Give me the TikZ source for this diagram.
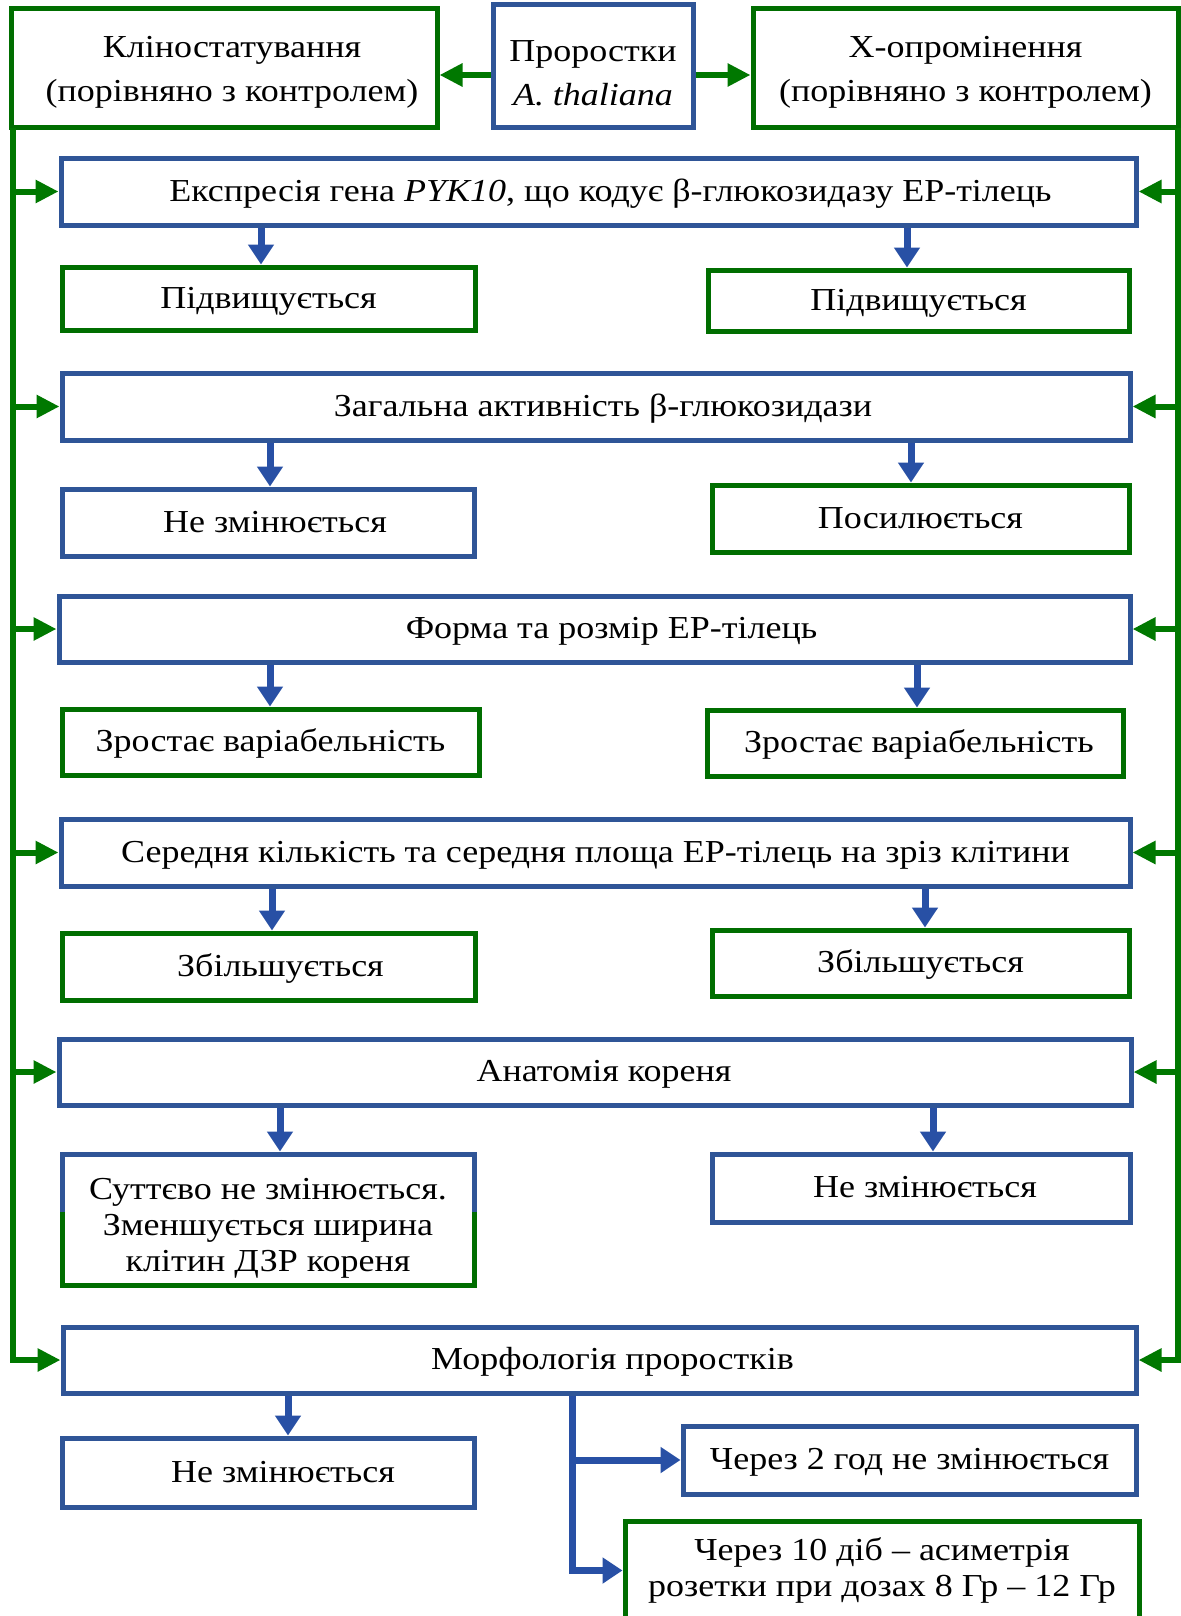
\documentclass[tikz,border=0pt]{standalone}
\usepackage{fontspec}
\setmainfont[FakeStretch=1.125]{Liberation Serif}
\usetikzlibrary{arrows.meta,calc}
\definecolor{gborder}{RGB}{0,110,0}
\definecolor{bborder}{RGB}{47,85,151}
\definecolor{barr}{RGB}{40,80,165}
\definecolor{garr}{RGB}{0,120,0}
\tikzset{
 box/.style={draw, line width=2.5pt, fill=white, inner sep=0pt, align=center, font=\fontsize{16}{18}\selectfont},
 gbox/.style={box, draw=gborder},
 bbox/.style={box, draw=bborder},
 one/.style={text height=11pt, text depth=1.5pt},
 topbox/.style={font=\fontsize{16}{22}\selectfont},
 gline/.style={draw=garr, line width=3pt},
 garrow/.style={gline, -{Triangle[length=11.5pt,width=11pt]}},
 bline/.style={draw=barr, line width=3.5pt},
 barrow/.style={bline, -{Triangle[length=10pt,width=12.5pt]}},
}
\newcommand\mybox[7]{\node[#6, minimum width={(#4-#2)*0.5pt}, minimum height={(#5-#3)*0.5pt}] (#1) at ({(#2+#4)/2},{(#3+#5)/2}) {#7};}
\newcommand\shr[1]{\hspace*{#1pt}}
\begin{document}
\begin{tikzpicture}[x=0.5pt,y=-0.5pt]
\useasboundingbox (0,0) rectangle (1181,1616);
\clip (0,0) rectangle (1181,1616);
\fill[white] (0,0) rectangle (1181,1616);
% top row
\mybox{kl}{11}{9}{437}{128}{gbox,topbox}{\rule{0pt}{14pt}\shr{8}Кліностатування\\\shr{8}(порівняно з контролем)}
\mybox{pr}{493}{5}{693}{128}{bbox,topbox}{\rule{0pt}{17pt}Проростки\\\textit{A. thaliana}}
\mybox{xo}{753}{9}{1178}{128}{gbox,topbox}{\rule{0pt}{14pt}X-опромінення\\(порівняно з контролем)}
% main boxes
\mybox{b1}{61}{158}{1136}{225}{bbox,one}{\shr{12}Експресія гена \textit{PYK10}, що кодує β-глюкозидазу ЕР-тілець}
\mybox{s1l}{62}{267}{475}{330}{gbox,one}{Підвищується}
\mybox{s1r}{708}{270}{1129}{331}{gbox,one}{Підвищується}
\mybox{b2}{62}{373}{1130}{440}{bbox,one}{\shr{7}Загальна активність β-глюкозидази}
\mybox{s2l}{62}{489}{474}{556}{bbox,one}{\shr{7}Не змінюється}
\mybox{s2r}{712}{485}{1129}{552}{gbox,one}{Посилюється}
\mybox{b3}{59}{596}{1130}{662}{bbox,one}{\shr{17}Форма та розмір ЕР-тілець}
\mybox{s3l}{62}{709}{479}{775}{gbox,one}{Зростає варіабельність}
\mybox{s3r}{707}{710}{1123}{776}{gbox,one}{\shr{4}Зростає варіабельність}
\mybox{b4}{61}{819}{1130}{886}{bbox,one}{Середня кількість та середня площа ЕР-тілець на зріз клітини}
\mybox{s4l}{62}{933}{475}{1000}{gbox,one}{\shr{12}Збільшується}
\mybox{s4r}{712}{930}{1129}{996}{gbox,one}{Збільшується}
\mybox{b5}{59}{1039}{1131}{1105}{bbox,one}{\shr{9}Анатомія кореня}
\mybox{s5l}{62}{1154}{474}{1285}{gbox}{\rule{0pt}{19pt}Суттєво не змінюється.\\Зменшується ширина\\клітин ДЗР кореня}
\draw[bborder, line width=2.5pt] (62,1212) -- (62,1154) -- (474,1154) -- (474,1212);
\mybox{s5r}{712}{1154}{1130}{1222}{bbox,one}{\shr{4}Не змінюється}
\mybox{b6}{63}{1327}{1136}{1393}{bbox,one}{\shr{13}Морфологія проростків}
\mybox{s6l}{62}{1438}{474}{1507}{bbox,one}{\shr{15}Не змінюється}
\mybox{s6ra}{683}{1426}{1136}{1494}{bbox,one}{Через 2 год не змінюється}
\mybox{s6rb}{625}{1521}{1139}{1620}{gbox}{Через 10 діб – асиметрія\\розетки при дозах 8 Гр – 12 Гр}
% top arrows
\coordinate (ay) at (0,75);
\draw[garrow] (pr.west |- ay) -- (kl.east |- ay);
\draw[garrow] (pr.east |- ay) -- (xo.west |- ay);
% side lines
\coordinate (lx) at (13,128);
\coordinate (rx) at (1178,128);
\draw[garrow] (lx) |- (b6.west);
\draw[garrow] (rx) |- (b6.east);
\foreach \b in {b1,b2,b3,b4,b5}{
  \draw[garrow] (\b.west -| lx) -- (\b.west);
  \draw[garrow] (\b.east -| rx) -- (\b.east);
}
% down arrows
\foreach \b/\s/\x in {b1/s1l/261, b1/s1r/907, b2/s2l/270, b2/s2r/911, b3/s3l/270, b3/s3r/917, b4/s4l/272, b4/s4r/925, b5/s5l/280, b5/s5r/933, b6/s6l/288}{
  \coordinate (ax) at (\x,0);
  \draw[barrow] (\b.south -| ax) -- (\s.north -| ax);
}
% trunk
\coordinate (tx) at (572,0);
\draw[barrow] (b6.south -| tx) |- (s6rb.west);
\draw[barrow] (s6ra.west -| tx) -- (s6ra.west);
\end{tikzpicture}
\end{document}
